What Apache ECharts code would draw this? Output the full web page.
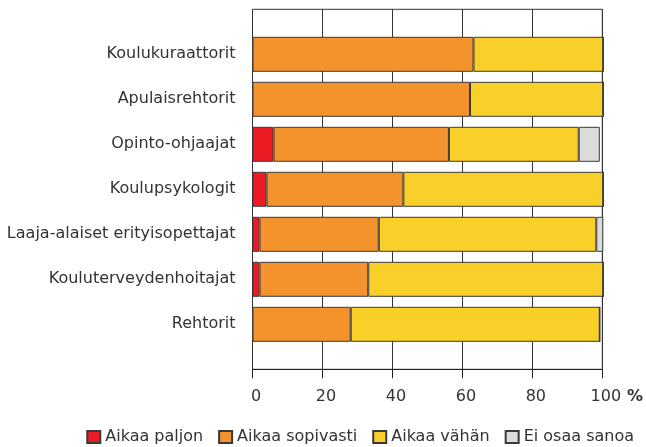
<!DOCTYPE html>
<html>
<head>
<meta charset="utf-8">
<script src="https://cdn.jsdelivr.net/npm/echarts@6/dist/echarts.min.js"></script>
<style>
html,body{margin:0;padding:0;background:#fff;}
#chart{width:646px;height:447px;}
</style>
</head>
<body>
<div id="chart"></div>
<script>
var categories = ['Koulukuraattorit','Apulaisrehtorit','Opinto-ohjaajat','Koulupsykologit','Laaja-alaiset erityisopettajat','Kouluterveydenhoitajat','Rehtorit'];
var seriesNames = ['Aikaa paljon','Aikaa sopivasti','Aikaa vähän','Ei osaa sanoa'];
var paljon   = [0, 0, 6, 4, 2, 2, 0];
var sopivasti= [63, 62, 50, 39, 34, 31, 28];
var vahan    = [37, 38, 37, 57, 62, 67, 71];
var eiosaa   = [0, 0, 6, 0, 2, 0, 0];
var xTicks = [0, 20, 40, 60, 80, 100];

var colors = ['#ED1C24','#F4922C','#F9CF2A','#DCDCDC'];
var values = [paljon, sopivasti, vahan, eiosaa];
var font = 'DejaVu Sans';
var txt = '#333333';
var fs = 16;

var chart = echarts.init(document.getElementById('chart'), null, {renderer:'canvas'});
var series = seriesNames.map(function(n, i){
  return {
    name: n, type: 'bar', stack: 'all', xAxisIndex: 1, yAxisIndex: 1,
    barWidth: 35,
    itemStyle: {color: colors[i], borderColor: '#3a3a3a', borderWidth: 1},
    data: values[i]
  };
});
chart.setOption({
  animation: false,
  backgroundColor: '#ffffff',
  textStyle: {fontFamily: font},
  grid: [
    {left: 252.5, right: 42.7, top: 9.3, height: 360, show: true, borderColor: '#333', borderWidth: 1, backgroundColor: 'transparent'},
    {left: 252.5, right: 42.7, top: 31.8, height: 315}
  ],
  xAxis: [
    {gridIndex: 0, type: 'value', min: 0, max: 100, interval: 20,
     axisLine: {show: true, lineStyle: {color: '#222', width: 1}},
     axisTick: {show: true, length: 9, lineStyle: {color: '#222'}},
     axisLabel: {fontFamily: font, fontSize: fs, color: txt, margin: 20, padding: [0,0,0,7],
       formatter: function(v){ return xTicks.indexOf(v) >= 0 ? String(v) : ''; }},
     splitLine: {show: true, lineStyle: {color: '#333', width: 1}},
     name: '%', nameLocation: 'end', nameGap: 20,
     nameTextStyle: {fontFamily: font, fontSize: fs, fontWeight: 'bold', color: txt, verticalAlign: 'top', padding: [20,0,0,0]}
    },
    {gridIndex: 1, type: 'value', min: 0, max: 100, show: false}
  ],
  yAxis: [
    {gridIndex: 0, type: 'category', data: [''], show: false},
    {gridIndex: 1, type: 'category', data: categories, inverse: true,
     axisLine: {show: false}, axisTick: {show: false},
     axisLabel: {fontFamily: font, fontSize: fs, color: txt, margin: 17, padding: [8,0,0,0]}
    }
  ],
  legend: {
    data: seriesNames, right: 7, top: 424, itemWidth: 13, itemHeight: 12, itemGap: 15,
    icon: 'rect',
    textStyle: {fontFamily: font, fontSize: fs, color: txt}
  },
  series: series
});
</script>
</body>
</html>
